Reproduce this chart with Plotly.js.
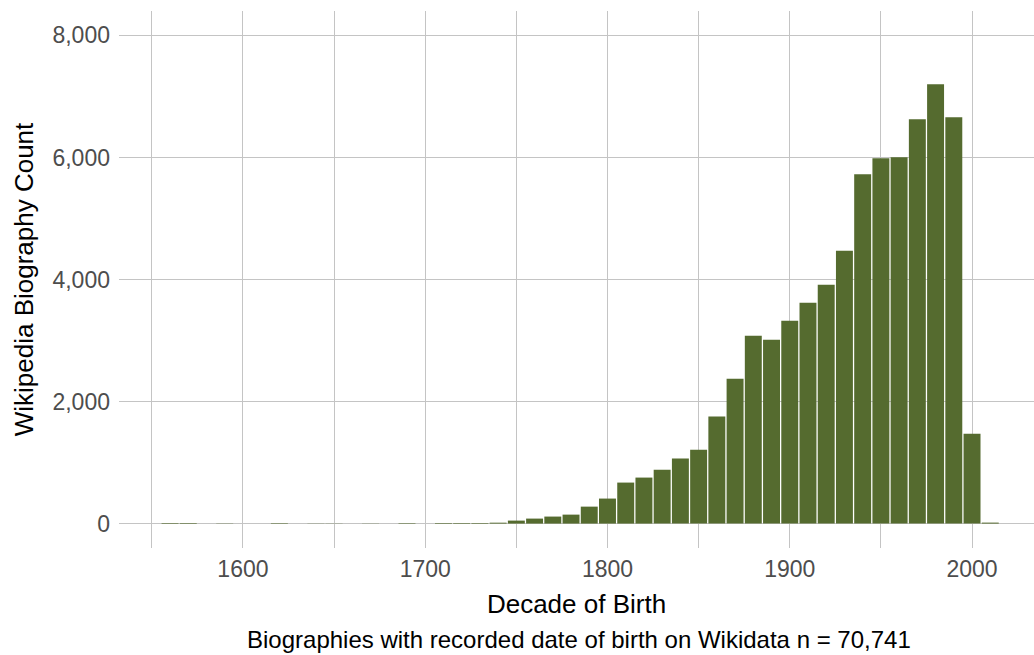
<!DOCTYPE html>
<html>
<head>
<meta charset="utf-8">
<script src="https://cdn.plot.ly/plotly-3.0.1.min.js"></script>
<style>
  html, body { margin: 0; padding: 0; background: #ffffff; }
  #chart { width: 1034px; height: 655px; }
</style>
</head>
<body>
<div id="chart"></div>
<script>
// Decade of birth (bar centres) and number of Wikipedia biographies
var decades = [1560, 1570, 1590, 1620, 1640, 1650, 1670, 1690,
               1710, 1720, 1730, 1740, 1750, 1760, 1770, 1780, 1790,
               1800, 1810, 1820, 1830, 1840, 1850, 1860, 1870, 1880, 1890,
               1900, 1910, 1920, 1930, 1940, 1950, 1960, 1970, 1980, 1990,
               2000, 2010];
var counts = [10, 10, 4, 8, 3, 3, 3, 8,
              10, 10, 10, 15, 49, 82, 115, 147, 278,
              410, 672, 754, 884, 1065, 1212, 1753, 2375, 3080, 3014,
              3325, 3620, 3915, 4472, 5725, 5987, 6003, 6626, 7199, 6658,
              1474, 16];

var xGridVals = [1550, 1600, 1650, 1700, 1750, 1800, 1850, 1900, 1950, 2000];
var xTickText = ['', '1600', '', '1700', '', '1800', '', '1900', '', '2000'];
var yTickVals = [0, 2000, 4000, 6000, 8000];
var yTickText = ['0', '2,000', '4,000', '6,000', '8,000'];

var captionText = 'Biographies with recorded date of birth on Wikidata n = 70,741';

var FONT = 'Liberation Sans, Arial, Helvetica, sans-serif';

var trace = {
  type: 'bar',
  x: decades,
  y: counts,
  marker: { color: '#556B2F', line: { width: 0 } },
  hoverinfo: 'skip'
};

var layout = {
  width: 1034,
  height: 655,
  margin: { l: 119, r: 0, t: 11, b: 107, pad: 0 },
  paper_bgcolor: '#ffffff',
  plot_bgcolor: '#ffffff',
  bargap: 0.07,
  showlegend: false,
  font: { family: FONT, color: '#000000' },
  xaxis: {
    range: [1532, 2034],
    tickmode: 'array',
    tickvals: xGridVals,
    ticktext: xTickText,
    showgrid: true,
    gridcolor: '#C4C4C4',
    gridwidth: 1,
    zeroline: false,
    showline: false,
    ticks: '',
    ticklabelstandoff: 5,
    tickfont: { family: FONT, size: 23, color: '#4D4D4D' },
    title: { text: 'Decade of Birth', font: { family: FONT, size: 26, color: '#000000' }, standoff: 13 },
    automargin: false,
    fixedrange: true
  },
  yaxis: {
    range: [-400, 8400],
    tickmode: 'array',
    tickvals: yTickVals,
    ticktext: yTickText,
    showgrid: true,
    gridcolor: '#C4C4C4',
    gridwidth: 1,
    zeroline: false,
    showline: false,
    ticks: '',
    ticklabelstandoff: 8,
    tickfont: { family: FONT, size: 23, color: '#4D4D4D' },
    title: { text: 'Wikipedia Biography Count', font: { family: FONT, size: 26, color: '#000000' }, standoff: 11 },
    automargin: false,
    fixedrange: true
  },
  annotations: [{
    text: captionText,
    xref: 'paper', yref: 'paper',
    x: 0.5027, y: 0,
    xanchor: 'center', yanchor: 'middle',
    yshift: -91,
    showarrow: false,
    font: { family: FONT, size: 24, color: '#000000' }
  }]
};

Plotly.newPlot('chart', [trace], layout, { staticPlot: true, displayModeBar: false });
</script>
</body>
</html>
